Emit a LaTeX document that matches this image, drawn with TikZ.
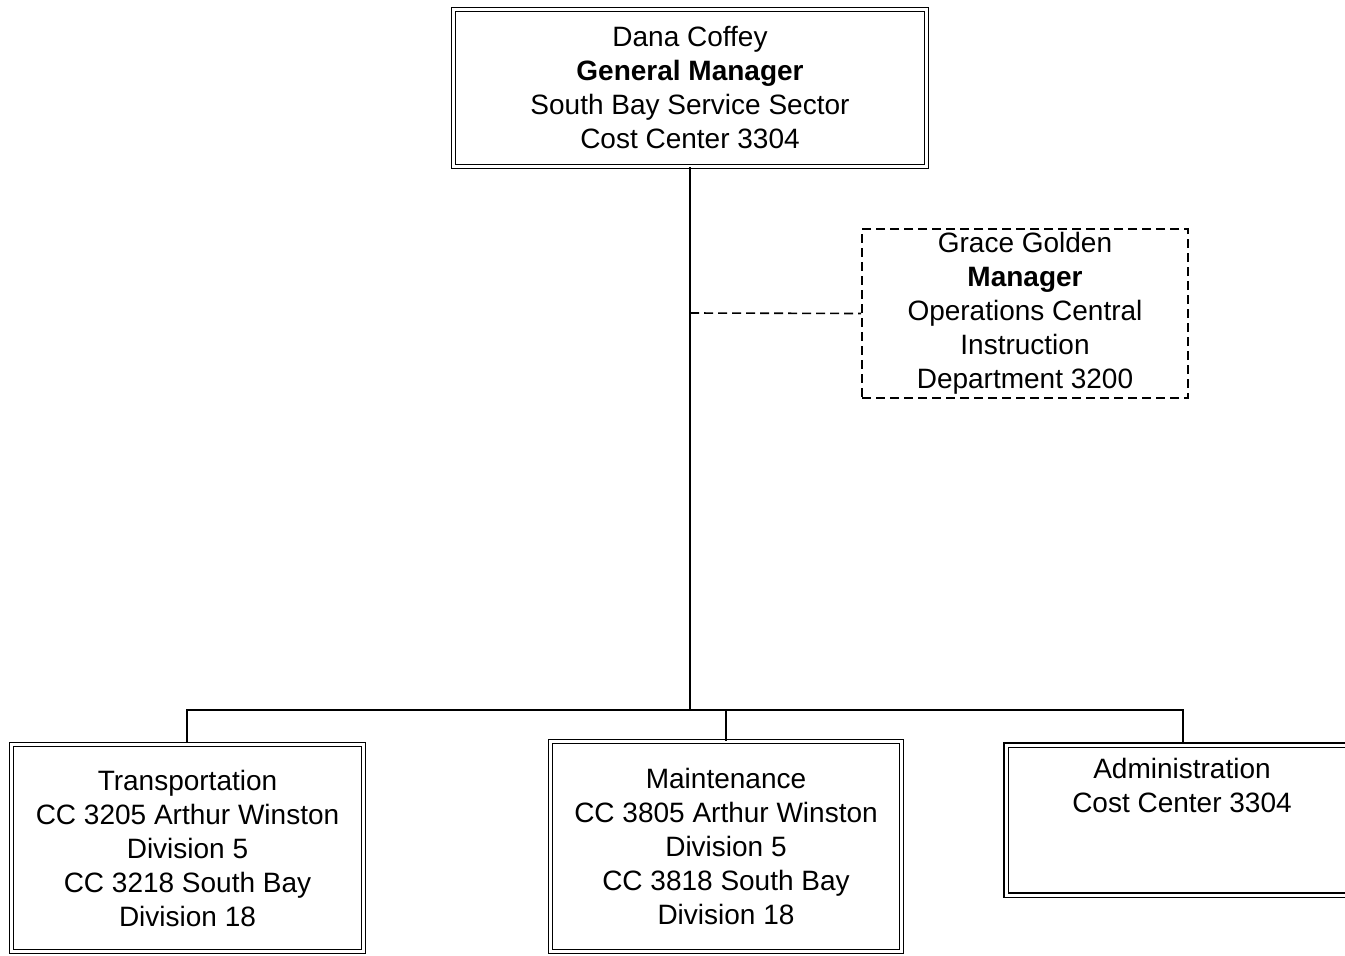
\documentclass[tikz,border=0pt]{standalone}
\usepackage{fontspec}
\setmainfont{Liberation Sans}
\begin{document}
\begin{tikzpicture}[x=1pt,y=-1pt,
  every node/.style={font=\fontsize{28}{34}\selectfont, align=center, inner sep=0pt},
  dbox/.style={draw, double, double distance=2.6pt, line width=1.5pt, rectangle},
  dashbox/.style={draw, dashed, dash pattern=on 9pt off 5pt, line width=1.6pt, rectangle},
  conn/.style={line width=1.8pt},
  dconn/.style={line width=1.6pt, dash pattern=on 9pt off 5pt}]
\useasboundingbox (0,0) rectangle (1345,956);
\clip (0,0) rectangle (1345,956);
% top box
\node[dbox, minimum width=473pt, minimum height=157pt] (gm) at (690,88)
  {Dana Coffey\\\textbf{General Manager}\\South Bay Service Sector\\Cost Center 3304};
% dashed staff box
\node[dashbox, minimum width=326pt, minimum height=169pt] (gg) at (1025,313.5)
  {Grace Golden\\\textbf{Manager}\\Operations Central\\Instruction\\Department 3200};
% bottom boxes
\node[dbox, minimum width=352pt, minimum height=207pt] (tr) at (187.5,848)
  {Transportation\\CC 3205 Arthur Winston\\Division 5\\CC 3218 South Bay\\Division 18};
\node[dbox, minimum width=351pt, minimum height=210pt] (mt) at (726,846.5)
  {Maintenance\\CC 3805 Arthur Winston\\Division 5\\CC 3818 South Bay\\Division 18};
\node[dbox, minimum width=380pt, minimum height=150pt, anchor=north west] (ad) at (1005.5,744.5) {};
\node[anchor=north] (adt) at (1182,758) {Administration\\Cost Center 3304};
% connectors
\coordinate (bar) at (690,710);
\draw[conn] (gm.south) -- (bar);
\draw[dconn] (690,313) -- (gg.west);
\draw[conn] (187,743) -- (187,710) -- (1183,710) -- (1183,743);
\draw[conn] (726,710) -- (mt.north);
\end{tikzpicture}
\end{document}
